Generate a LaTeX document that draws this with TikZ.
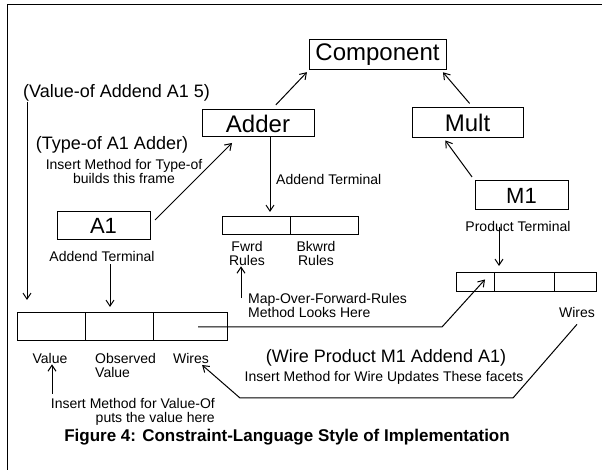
\documentclass[tikz,border=0pt]{standalone}
\usepackage{fontspec}
\setmainfont{Liberation Sans}
\usetikzlibrary{arrows.meta, positioning}

\begin{document}
\begin{tikzpicture}[x=1pt, y=1pt,
  % Node styles
  frame/.style={draw, line width=1pt, inner sep=0pt, outer sep=0pt,
                font=\fontsize{24}{24}\selectfont},
  cell/.style={draw, line width=1pt, inner sep=0pt, outer sep=0pt},
  lbl/.style={inner sep=0pt, align=center, font=\fontsize{14}{14}\selectfont},
  call/.style={inner sep=0pt, align=center, font=\fontsize{18}{18}\selectfont},
  % Arrow styles
  arr/.style={-{Straight Barb[length=6pt, width=8pt]}, line width=1pt},
]
  \useasboundingbox (0,0) rectangle (602,470);

  % ── Border ──
  \draw[line width=1pt] (7,0) -- (7,465) -- (602,465);

  % ── Type hierarchy ──
  \node[frame, minimum width=137pt, minimum height=30pt] (comp) at (377.5,415) {Component};
  \node[frame, minimum width=112pt, minimum height=27pt] (adder) at (258,346.5) {Adder};
  \node[frame, minimum width=111pt, minimum height=30pt] (mult) at (467.5,347) {Mult};
  \node[frame, minimum width=93pt, minimum height=29pt, font=\fontsize{22}{22}\selectfont] (m1) at (521.5,274.5) {M1};
  \node[frame, minimum width=93pt, minimum height=28pt, font=\fontsize{22}{22}\selectfont] (a1) at (103.5,244) {A1};

  % ── Rules frame ──
  \node[cell, minimum width=68pt, minimum height=18pt, anchor=north west] (fwcell) at (222,253) {};
  \node[cell, minimum width=68pt, minimum height=18pt, right=0pt of fwcell] (bwcell) {};

  % ── Product terminal frame ──
  \node[cell, minimum width=38pt, minimum height=19pt, anchor=north west] (pcell1) at (456,197) {};
  \node[cell, minimum width=60pt, minimum height=19pt, right=0pt of pcell1] (pcell2) {};
  \node[cell, minimum width=42pt, minimum height=19pt, right=0pt of pcell2] (pwires) {};

  % ── Addend terminal frame ──
  \node[cell, minimum width=68pt, minimum height=28pt, anchor=north west] (valcell) at (17,157) {};
  \node[cell, minimum width=68pt, minimum height=28pt, right=0pt of valcell] (obscell) {};
  \node[cell, minimum width=74pt, minimum height=28pt, right=0pt of obscell] (awires) {};

  % ── Labels ──
  \node[call, anchor=west] (valueof) at (23,377) {(Value-of Addend A1 5)};
  \node[call] (typeof) at (112,325) {(Type-of A1 Adder)};
  \node[lbl] (typenote) at (124,298) {Insert Method for Type-of\\builds this frame};
  \node[lbl] (a1term) at (102,213) {Addend Terminal};
  \node[lbl, anchor=west] (addterm) at (276,290) {Addend Terminal};
  \node[lbl] (fwrd) at (247,216) {Fwrd\\Rules};
  \node[lbl] (bkwrd) at (316,216) {Bkwrd\\Rules};
  \node[lbl, anchor=west, align=left] (mapnote) at (248,164.5) {Map-Over-Forward-Rules\\Method Looks Here};
  \node[lbl] (prodterm) at (518,243) {Product Terminal};
  \node[lbl] (pwlabel) at (577,157) {Wires};
  \node[lbl] (vallabel) at (50,111) {Value};
  \node[lbl, anchor=west, align=left] (obslabel) at (95,104.5) {Observed\\Value};
  \node[lbl] (awlabel) at (191,111) {Wires};
  \node[call] (wirecall) at (386,112) {(Wire Product M1 Addend A1)};
  \node[lbl] (wirenote) at (384,92) {Insert Method for Wire Updates These facets};
  \node[lbl, anchor=east, align=right] (valnote) at (215,58) {Insert Method for Value-Of\\puts the value here\hspace{11pt}};
  \node[inner sep=0pt, font=\fontsize{17}{17}\selectfont\bfseries] (caption) at (287,33) {Figure 4: Constraint-Language Style of Implementation};

  % ── Arrows: hierarchy ──
  \draw[arr, shorten <=7pt, shorten >=3pt] ([xshift=13pt]adder.north) -- (comp.south west);
  \draw[arr, shorten <=6pt, shorten >=3pt] ([xshift=6pt]mult.north) -- ([xshift=-5pt]comp.south east);
  \draw[arr, shorten <=5pt, shorten >=3pt] (m1.north west) -- ([xshift=-24pt]mult.south);
  \draw[arr] ([xshift=5pt,yshift=6pt]a1.east) -- ([xshift=30pt,yshift=-6pt]adder.south west);

  % ── Arrows: terminals to frames ──
  \draw[arr, shorten >=5pt] ([xshift=12pt]adder.south) -- ([xshift=14pt]fwcell.north);
  \draw[arr, shorten <=2pt] ([xshift=8pt]a1term.south) -- ([xshift=-9pt,yshift=6pt]obscell.north);
  \draw[arr] ([xshift=-19pt]prodterm.center) -- ([xshift=5pt,yshift=7pt]pcell2.north west);
  \draw[arr] ([xshift=4pt,yshift=-9pt]valueof.west) -- ([xshift=10pt,yshift=13pt]valcell.north west);

  % ── Arrows: method notes ──
  \draw[arr] ([xshift=-7pt,yshift=-5pt]mapnote.north west) -- ([xshift=-6pt]fwrd.south);
  \coordinate (valtail) at (52,76);
  \draw[arr] (valtail) -- ([xshift=2pt]vallabel.south);

  % ── Arrows: wires ──
  \coordinate (wbend) at (442,143);
  \draw[arr] ([xshift=8pt]awires.center) -- (wbend) -- ([xshift=10pt,yshift=3pt]pcell1.center);
  \coordinate (wb1) at (513,72);
  \coordinate (wb2) at (240,72);
  \draw[arr] ([yshift=-6pt]pwlabel.south) -- (wb1) -- (wb2) -- ([xshift=-7pt,yshift=-6pt]awlabel.east);

\end{tikzpicture}
\end{document}
